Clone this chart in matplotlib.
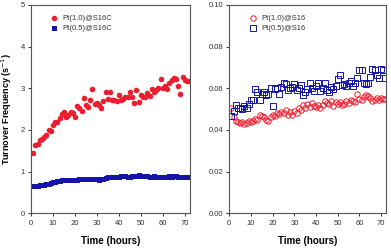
import numpy as np
import matplotlib
matplotlib.use('Agg')
import matplotlib.pyplot as plt

#------------------------------#
# DATA
#------------------------------#

# Pt@S16C (left panel), one point per hour
pt10_s16c = [1.45, 1.65, 1.66, 1.75, 1.78, 1.82, 1.88, 2.00, 1.98, 2.12,
             2.20, 2.18, 2.28, 2.38, 2.42, 2.30, 2.35, 2.43, 2.40, 2.30,
             2.58, 2.52, 2.45, 2.76, 2.60, 2.55, 2.72, 2.98, 2.62, 2.65,
             2.60, 2.52, 2.70, 2.90, 2.75, 2.90, 2.72, 2.72, 2.70, 2.85,
             2.72, 2.75, 2.78, 2.78, 2.90, 2.78, 2.65, 2.95, 2.68, 2.85,
             2.80, 2.78, 2.88, 2.82, 2.98, 2.92, 2.95, 3.00, 3.23, 3.00,
             3.05, 2.98, 3.12, 3.20, 3.25, 3.22, 3.05, 2.87, 3.28, 3.20,
             3.18, 3.18]
pt05_s16c = [0.65, 0.66, 0.66, 0.67, 0.68, 0.69, 0.70, 0.71, 0.73, 0.75,
             0.76, 0.77, 0.78, 0.79, 0.80, 0.80, 0.81, 0.81, 0.81, 0.80,
             0.81, 0.82, 0.82, 0.83, 0.83, 0.82, 0.83, 0.83, 0.82, 0.82,
             0.81, 0.82, 0.83, 0.84, 0.86, 0.86, 0.87, 0.87, 0.88, 0.88,
             0.89, 0.90, 0.89, 0.88, 0.88, 0.89, 0.90, 0.90, 0.91, 0.90,
             0.90, 0.89, 0.89, 0.88, 0.88, 0.89, 0.88, 0.88, 0.87, 0.87,
             0.88, 0.88, 0.89, 0.88, 0.89, 0.89, 0.88, 0.88, 0.88, 0.87,
             0.87, 0.87]

# Pt@S16 (right panel)
pt10_s16 = [0.0505, 0.0460, 0.0445, 0.0440, 0.0435, 0.0440, 0.0430, 0.0435, 0.0445, 0.0440,
            0.0445, 0.0455, 0.0450, 0.0470, 0.0465, 0.0460, 0.0450, 0.0445, 0.0460, 0.0470,
            0.0465, 0.0480, 0.0475, 0.0485, 0.0480, 0.0495, 0.0470, 0.0485, 0.0470, 0.0490,
            0.0480, 0.0505, 0.0495, 0.0520, 0.0505, 0.0525, 0.0510, 0.0530, 0.0515, 0.0510,
            0.0520, 0.0505, 0.0520, 0.0540, 0.0530, 0.0525, 0.0540, 0.0515, 0.0535, 0.0525,
            0.0535, 0.0520, 0.0525, 0.0540, 0.0530, 0.0545, 0.0540, 0.0535, 0.0575, 0.0550,
            0.0545, 0.0560, 0.0570, 0.0565, 0.0555, 0.0540, 0.0545, 0.0555, 0.0545, 0.0555,
            0.0550, 0.0550]
pt05_s16 = [0.0465, 0.0490, 0.0520, 0.0505, 0.0505, 0.0500, 0.0515, 0.0505, 0.0525, 0.0545,
            0.0545, 0.0595, 0.0580, 0.0545, 0.0575, 0.0580, 0.0570, 0.0575, 0.0600, 0.0515,
            0.0595, 0.0600, 0.0575, 0.0605, 0.0625, 0.0620, 0.0590, 0.0600, 0.0605, 0.0620,
            0.0590, 0.0600, 0.0615, 0.0570, 0.0580, 0.0595, 0.0625, 0.0600, 0.0585, 0.0610,
            0.0625, 0.0585, 0.0600, 0.0625, 0.0590, 0.0580, 0.0605, 0.0595, 0.0610, 0.0645,
            0.0665, 0.0615, 0.0620, 0.0610, 0.0625, 0.0635, 0.0610, 0.0625, 0.0650, 0.0690,
            0.0690, 0.0625, 0.0620, 0.0625, 0.0655, 0.0695, 0.0690, 0.0665, 0.0650, 0.0695,
            0.0690, 0.0650]

hours = np.arange(1, len(pt10_s16c) + 1)
x_ticks = [0, 10, 20, 30, 40, 50, 60, 70]
left_yticks = [0, 1, 2, 3, 4, 5]
right_yticks = [0.00, 0.02, 0.04, 0.06, 0.08, 0.10]

RED = '#ee1c2e'
BLUE = '#1414aa'

plt.rcParams['font.family'] = ['Liberation Sans', 'DejaVu Sans']

#------------------------------#
# PLOT
#------------------------------#


def style_axis(ax, yticks, fmt):
    ax.set_xlim(0, 72.4)
    ax.set_ylim(yticks[0], yticks[-1])
    ax.set_xticks(x_ticks)
    ax.set_yticks(yticks)
    ax.set_yticklabels([fmt.format(v) for v in yticks])
    ax.tick_params(direction='out', length=2.5, width=0.7, labelsize=5.5,
                   colors='#333333', pad=2)
    for s in ax.spines.values():
        s.set_color('#555555')
        s.set_linewidth(0.8)
    ax.set_xlabel('Time (hours)', fontsize=7, fontweight='bold', labelpad=7)
    leg = ax.legend(loc='upper left', bbox_to_anchor=(0.08, 0.985), frameon=False,
                    fontsize=5.5, handletextpad=0.6, labelspacing=0.35,
                    handlelength=1.0)
    for t in leg.get_texts():
        t.set_color('#333333')


fig = plt.figure(figsize=(3.91, 2.49), dpi=100)
ax1 = fig.add_axes([31 / 391, 1 - 213.3 / 249, 159 / 391, 208.3 / 249])
ax2 = fig.add_axes([229.3 / 391, 1 - 213.3 / 249, 157 / 391, 208.3 / 249])

ax1.plot(hours, pt10_s16c, 'o', color=RED, markersize=4.0, markeredgewidth=0,
         label='Pt(1.0)@S16C')
ax1.plot(hours, pt05_s16c, 's', color=BLUE, markersize=3.6, markeredgewidth=0,
         label='Pt(0.5)@S16C')
ax1.set_ylabel('Turnover Frequency (s$^{-1}$)', fontsize=6.5, fontweight='bold')
ax1.yaxis.set_label_coords(-0.105, 0.5)
style_axis(ax1, left_yticks, '{:g}')

ax2.plot(hours, pt10_s16, 'o', markerfacecolor='none', markeredgecolor=RED,
         markersize=3.9, markeredgewidth=0.7, label='Pt(1.0)@S16')
ax2.plot(hours, pt05_s16, 's', markerfacecolor='none', markeredgecolor=BLUE,
         markersize=3.7, markeredgewidth=0.7, label='Pt(0.5)@S16')
style_axis(ax2, right_yticks, '{:.2f}')

fig.savefig('out.png', dpi=100)
